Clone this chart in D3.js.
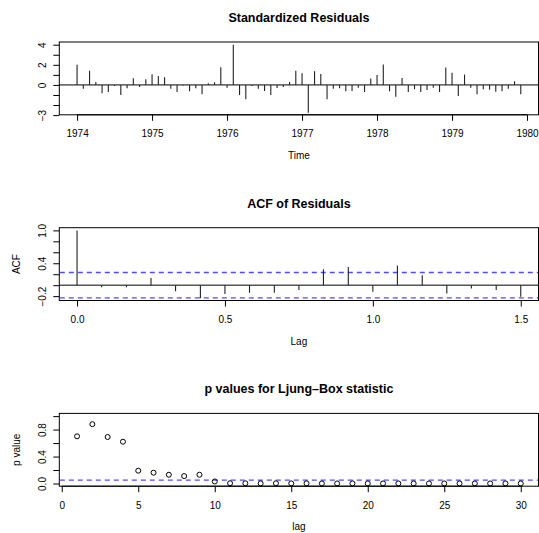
<!DOCTYPE html>
<html>
<head>
<meta charset="utf-8">
<script src="https://cdn.jsdelivr.net/npm/d3@7"></script>
<style>
  body { margin: 0; background: #fff; }
  text { font-family: "Liberation Sans", Arial, Helvetica, sans-serif; fill: #000; }
</style>
</head>
<body>
<div id="chart"></div>
<script>
// ---- data ----
const RES_START = 1974;      // monthly series starting Jan 1974
const RES_FREQ = 12;
const RESIDUALS = [2.0, -0.37, 1.4, 0.3, -0.83, -0.7, -0.1, -1.0, -0.33, 0.67,
  -0.2, 0.57, 1.07, 0.9, 0.77, -0.37, -0.7, -0.05, -0.63, -0.33,
  -0.93, 0.17, 0.27, 1.77, -0.27, 4.0, -1.0, -1.43, -0.1, -0.37,
  -0.6, -1.0, -0.3, -0.2, 0.3, 1.4, 1.17, -2.77, 1.37, 1.1,
  -1.43, -0.37, -0.33, -0.63, -0.6, -0.27, -0.7, 0.63, 1.0, 2.03,
  -0.63, -1.17, 0.7, -0.7, -0.43, -0.7, -0.5, -0.27, -0.7, 1.73,
  1.2, -1.1, 1.03, -0.27, -0.93, -0.43, -0.47, -0.67, -0.63, -0.37,
  0.37, -0.93];
const YEAR_TICKS = [1974, 1975, 1976, 1977, 1978, 1979, 1980];
const RES_Y_TICKS = [-3, -2, -1, 0, 1, 2, 3, 4];
const RES_Y_LABELS = [4, 2, 0, -3];

const ACF_LAG = [0, 0.083, 0.167, 0.25, 0.333, 0.417, 0.5, 0.583, 0.667, 0.75,
  0.833, 0.917, 1.0, 1.083, 1.167, 1.25, 1.333, 1.417, 1.5];
const ACF_VAL = [1.0, -0.04, -0.04, 0.13, -0.11, -0.24, -0.16, -0.14, -0.14, -0.09,
  0.29, 0.33, -0.12, 0.36, 0.18, -0.15, -0.06, -0.09, -0.21];
const ACF_CI = 0.231;
const ACF_X_TICKS = [0, 0.5, 1.0, 1.5];
const ACF_Y_TICKS = [-0.2, 0, 0.2, 0.4, 0.6, 0.8, 1.0];
const ACF_Y_LABELS = [1.0, 0.4, -0.2];

const PV_LAG = [1, 2, 3, 4, 5, 6, 7, 8, 9, 10, 11, 12, 13, 14, 15,
  16, 17, 18, 19, 20, 21, 22, 23, 24, 25, 26, 27, 28, 29, 30];
const PV_VAL = [0.70, 0.88, 0.69, 0.62, 0.19, 0.16, 0.13, 0.11, 0.13, 0.03,
  0.004, 0.003, 0.002, 0.003, 0.002, 0.002, 0.001, 0.001, 0.001, 0.001,
  0.001, 0.001, 0.001, 0.001, 0.001, 0.001, 0.001, 0.001, 0.001, 0.001];
const PV_LEVEL = 0.05;
const PV_X_TICKS = [0, 5, 10, 15, 20, 25, 30];
const PV_Y_TICKS = [0, 0.2, 0.4, 0.6, 0.8, 1.0];
const PV_Y_LABELS = [0, 0.4, 0.8];

// ---- layout ----
const WIDTH = 539, HEIGHT = 533;
const PLOT_L = 59.3, PLOT_R = 538.5;
const PANEL_TOP = [42, 227.7, 413.4];
const PANEL_H = 72.8;
const MID_X = (PLOT_L + PLOT_R) / 2;

const svg = d3.select("#chart").append("svg")
  .attr("width", WIDTH).attr("height", HEIGHT);

// draws box, axes, titles for one panel
function frame(top, x, y, opts) {
  const bottom = top + PANEL_H;
  const g = svg.append("g");

  // x axis
  const xa = g.append("g")
    .attr("transform", "translate(0," + bottom + ")")
    .call(d3.axisBottom(x).tickValues(opts.xTicks).tickSize(6).tickPadding(9.5)
      .tickFormat(opts.xFormat));
  xa.select(".domain").remove();
  xa.append("line")
    .attr("x1", x(opts.xTicks[0])).attr("x2", x(opts.xTicks[opts.xTicks.length - 1]))
    .attr("stroke", "#000");
  xa.selectAll("text").attr("font-size", "10px").attr("fill", "#000")
    .attr("font-family", null);

  // y axis, labels parallel to the axis
  const ya = g.append("g")
    .attr("transform", "translate(" + PLOT_L + ",0)")
    .call(d3.axisLeft(y).tickValues(opts.yTicks).tickSize(6)
      .tickFormat((d) => opts.yLabels.some((v) => Math.abs(v - d) < 1e-9) ? opts.yFormat(d) : ""));
  ya.select(".domain").remove();
  ya.selectAll("text")
    .attr("x", null).attr("dy", null)
    .attr("text-anchor", "middle")
    .attr("transform", "translate(-13.7,0) rotate(-90)")
    .attr("font-size", "10px").attr("fill", "#000").attr("font-family", null);
  ya.selectAll("line").attr("stroke", "#000");
  xa.selectAll("line").attr("stroke", "#000");

  // plot box
  g.append("rect")
    .attr("x", PLOT_L).attr("y", top)
    .attr("width", PLOT_R - PLOT_L).attr("height", PANEL_H)
    .attr("fill", "none").attr("stroke", "#000").attr("stroke-width", 1);

  // title
  g.append("text")
    .attr("x", MID_X).attr("y", top - 20)
    .attr("text-anchor", "middle")
    .attr("font-size", "12.5px").attr("font-weight", "bold")
    .text(opts.title);

  // x label
  g.append("text")
    .attr("x", MID_X).attr("y", bottom + 44)
    .attr("text-anchor", "middle").attr("font-size", "10px")
    .text(opts.xLabel);

  // y label
  if (opts.yLabel) {
    const cy = top + PANEL_H / 2;
    g.append("text")
      .attr("transform", "translate(19.5," + cy + ") rotate(-90)")
      .attr("text-anchor", "middle").attr("font-size", "10px")
      .text(opts.yLabel);
  }
  return g;
}

// ---- panel 1: standardized residuals ----
function build_residuals() {
  const top = PANEL_TOP[0];
  const X_SCALE = d3.scaleLinear().domain([1973.763, 1980.153]).range([PLOT_L, PLOT_R]);
  const Y_SCALE = d3.scaleLinear().domain([-2.97, 4.27]).range([top + PANEL_H, top]);

  const g = frame(top, X_SCALE, Y_SCALE, {
    xTicks: YEAR_TICKS, xFormat: d3.format("d"),
    yTicks: RES_Y_TICKS, yLabels: RES_Y_LABELS, yFormat: d3.format("d"),
    title: "Standardized Residuals", xLabel: "Time", yLabel: ""
  });

  g.append("line")
    .attr("x1", PLOT_L).attr("x2", PLOT_R)
    .attr("y1", Y_SCALE(0)).attr("y2", Y_SCALE(0))
    .attr("stroke", "#000");

  g.selectAll(".res")
    .data(RESIDUALS)
    .enter()
    .append("line")
      .attr("class", "res")
      .attr("x1", (d, i) => X_SCALE(RES_START + i / RES_FREQ))
      .attr("x2", (d, i) => X_SCALE(RES_START + i / RES_FREQ))
      .attr("y1", Y_SCALE(0))
      .attr("y2", (d) => Y_SCALE(d))
      .attr("stroke", "#222").attr("stroke-width", 1.1);
}

// ---- panel 2: ACF of residuals ----
function build_acf() {
  const top = PANEL_TOP[1];
  const X_SCALE = d3.scaleLinear().domain([-0.06, 1.56]).range([PLOT_L, PLOT_R]);
  const Y_SCALE = d3.scaleLinear().domain([-0.28, 1.049]).range([top + PANEL_H, top]);

  const g = frame(top, X_SCALE, Y_SCALE, {
    xTicks: ACF_X_TICKS, xFormat: d3.format(".1f"),
    yTicks: ACF_Y_TICKS, yLabels: ACF_Y_LABELS, yFormat: d3.format(".1f"),
    title: "ACF of Residuals", xLabel: "Lag", yLabel: "ACF"
  });

  g.append("line")
    .attr("x1", PLOT_L).attr("x2", PLOT_R)
    .attr("y1", Y_SCALE(0)).attr("y2", Y_SCALE(0))
    .attr("stroke", "#000");

  g.selectAll(".ci")
    .data([ACF_CI, -ACF_CI])
    .enter()
    .append("line")
      .attr("class", "ci")
      .attr("x1", PLOT_L + 0.5).attr("x2", PLOT_R - 0.5)
      .attr("y1", (d) => Y_SCALE(d)).attr("y2", (d) => Y_SCALE(d))
      .attr("stroke", "#4d4dff").attr("stroke-width", 1.3)
      .attr("stroke-dasharray", "5,4");

  g.selectAll(".acf")
    .data(ACF_VAL)
    .enter()
    .append("line")
      .attr("class", "acf")
      .attr("x1", (d, i) => X_SCALE(ACF_LAG[i]))
      .attr("x2", (d, i) => X_SCALE(ACF_LAG[i]))
      .attr("y1", Y_SCALE(0))
      .attr("y2", (d) => Y_SCALE(d))
      .attr("stroke", "#222").attr("stroke-width", 1.1);
}

// ---- panel 3: Ljung-Box p values ----
function build_pvalues() {
  const top = PANEL_TOP[2];
  const X_SCALE = d3.scaleLinear().domain([-0.16, 31.16]).range([PLOT_L, PLOT_R]);
  const Y_SCALE = d3.scaleLinear().domain([-0.04, 1.04]).range([top + PANEL_H, top]);

  const g = frame(top, X_SCALE, Y_SCALE, {
    xTicks: PV_X_TICKS, xFormat: d3.format("d"),
    yTicks: PV_Y_TICKS, yLabels: PV_Y_LABELS, yFormat: d3.format(".1f"),
    title: "p values for Ljung\u2013Box statistic", xLabel: "lag", yLabel: "p value"
  });

  g.append("line")
    .attr("x1", PLOT_L + 0.5).attr("x2", PLOT_R - 0.5)
    .attr("y1", Y_SCALE(PV_LEVEL)).attr("y2", Y_SCALE(PV_LEVEL))
    .attr("stroke", "#4d4dff").attr("stroke-width", 1.3)
    .attr("stroke-dasharray", "5,4");

  g.selectAll(".pt")
    .data(PV_VAL)
    .enter()
    .append("circle")
      .attr("class", "pt")
      .attr("cx", (d, i) => X_SCALE(PV_LAG[i]))
      .attr("cy", (d) => Y_SCALE(d))
      .attr("r", 2.5)
      .attr("fill", "none").attr("stroke", "#000").attr("stroke-width", 1);
}

build_residuals();
build_acf();
build_pvalues();
</script>
</body>
</html>
